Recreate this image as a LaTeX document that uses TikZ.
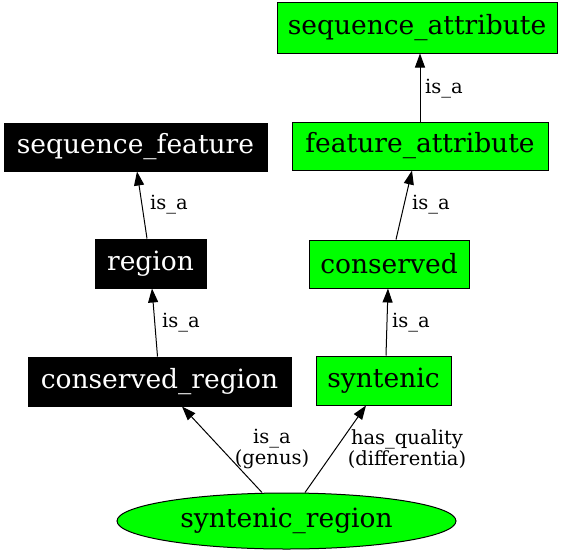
\documentclass[tikz,border=0pt]{standalone}
\usepackage{fontspec}
\setmainfont{DejaVu Serif}
\usetikzlibrary{arrows.meta,shapes.geometric}
\definecolor{gvgreen}{HTML}{00FF00}
\begin{document}
\begin{tikzpicture}[x=1pt,y=-1pt,
  gbox/.style={draw=black,line width=1pt,fill=gvgreen,inner sep=0pt,font=\fontsize{26.5}{30}\selectfont},
  bbox/.style={draw=black,line width=1pt,fill=black,text=white,inner sep=0pt,font=\fontsize{26.5}{30}\selectfont},
  arr/.style={line width=1pt,-{Triangle[length=14pt,width=10pt]}},
  elab/.style={font=\fontsize{19.5}{19}\selectfont,inner sep=0pt,align=center}]
\useasboundingbox (0,0) rectangle (568,555);
\node[gbox,minimum width=280pt,minimum height=51pt] (seqattr) at (417,27.5) {sequence\_attribute};
\node[gbox,minimum width=256pt,minimum height=48pt] (featattr) at (420,146) {feature\_attribute};
\node[bbox,minimum width=263pt,minimum height=48pt] (seqfeat) at (135.5,147) {sequence\_feature};
\node[bbox,minimum width=111pt,minimum height=49pt] (region) at (150.5,263.5) {region};
\node[gbox,minimum width=160pt,minimum height=48pt] (conserved) at (389,264) {conserved};
\node[bbox,minimum width=263pt,minimum height=49pt] (consreg) at (159.5,381.5) {conserved\_region};
\node[gbox,minimum width=135pt,minimum height=49pt] (syntenic) at (383.5,380.5) {syntenic};
\node[gbox,ellipse,inner sep=0pt,minimum width=339pt,minimum height=56pt] (synreg) at (286.5,521) {syntenic\_region};
\draw[arr] (featattr.north) -- ([xshift=3pt]seqattr.south);
\draw[arr] ([xshift=7pt]conserved.north) -- ([xshift=-8pt]featattr.south);
\draw[arr] ([xshift=-3.5pt]region.north) -- ([xshift=1.5pt]seqfeat.south);
\draw[arr] ([xshift=-2pt]consreg.north) -- ([xshift=1.5pt]region.south);
\draw[arr] ([xshift=2.5pt]syntenic.north) -- ([xshift=-1pt]conserved.south);
\draw[arr] ([xshift=-24.5pt]synreg.north) -- ([xshift=22.5pt]consreg.south);
\draw[arr] ([xshift=18.5pt]synreg.north) -- ([xshift=-17.5pt]syntenic.south);
\node[elab] (l1) at (444,89) {is\_a};
\node[elab] (l2) at (431,205) {is\_a};
\node[elab] (l3) at (169,205) {is\_a};
\node[elab] (l4) at (181,323) {is\_a};
\node[elab] (l5) at (411,323) {is\_a};
\node[elab] (l6) at (272,449) {is\_a\\(genus)};
\node[elab] (l7) at (407,449) {has\_quality\\(differentia)};
\end{tikzpicture}
\end{document}
